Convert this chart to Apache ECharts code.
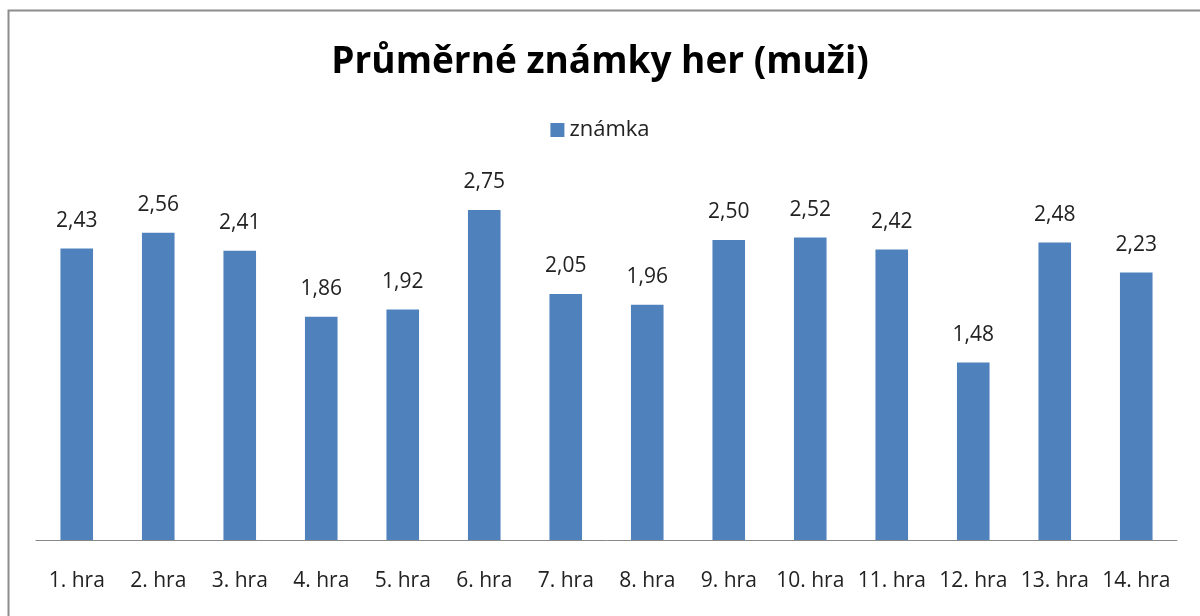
<!DOCTYPE html>
<html>
<head>
<meta charset="utf-8">
<script src="https://cdn.jsdelivr.net/npm/echarts@6/dist/echarts.min.js"></script>
<style>
  html, body { margin: 0; padding: 0; background: #fff; }
  #chart { width: 1200px; height: 616px; }
</style>
</head>
<body>
<div id="chart"></div>
<script>
// data
const categories = ['1. hra', '2. hra', '3. hra', '4. hra', '5. hra', '6. hra', '7. hra',
    '8. hra', '9. hra', '10. hra', '11. hra', '12. hra', '13. hra', '14. hra'];
const seriesName = 'známka';
const values = [2.43, 2.56, 2.41, 1.86, 1.92, 2.75, 2.05, 1.96, 2.50, 2.52, 2.42, 1.48, 2.48, 2.23];

const fontFamily = '"Open Sans", "Noto Sans", sans-serif';

const myChart = echarts.init(document.getElementById('chart'));

const option = {
    animation: false,
    graphic: [{
        type: 'rect',
        shape: { x: 8.5, y: 10.5, width: 1200, height: 620 },
        style: { fill: 'none', stroke: '#8c8c8c', lineWidth: 2 },
        silent: true
    }],
    title: {
        text: 'Průměrné známky her (muži)',
        left: 'center',
        top: 39,
        textStyle: { fontFamily, fontSize: 37, fontWeight: 'bold', color: '#000' }
    },
    legend: {
        data: [seriesName],
        top: 114,
        left: 'center',
        itemWidth: 14,
        itemHeight: 14,
        itemGap: 6,
        icon: 'rect',
        textStyle: { fontFamily, fontSize: 22, color: '#222' }
    },
    grid: { left: 36, right: 23, top: 180, bottom: 76 },
    xAxis: {
        type: 'category',
        data: categories,
        axisLine: { lineStyle: { color: '#888', width: 1 } },
        axisTick: { show: false },
        axisLabel: { fontFamily, fontSize: 21, color: '#222', margin: 31, interval: 0 }
    },
    yAxis: {
        type: 'value',
        min: 0,
        max: 3,
        show: false,
        splitLine: { show: false }
    },
    series: [{
        name: seriesName,
        type: 'bar',
        data: values,
        barWidth: '40%',
        itemStyle: { color: '#4f81bd' },
        label: {
            show: true,
            position: 'top',
            distance: 17,
            fontFamily,
            fontSize: 21,
            color: '#222',
            formatter: (p) => p.value.toFixed(2).replace('.', ',')
        }
    }]
};

myChart.setOption(option);
window.addEventListener('resize', () => myChart.resize());
</script>
</body>
</html>
